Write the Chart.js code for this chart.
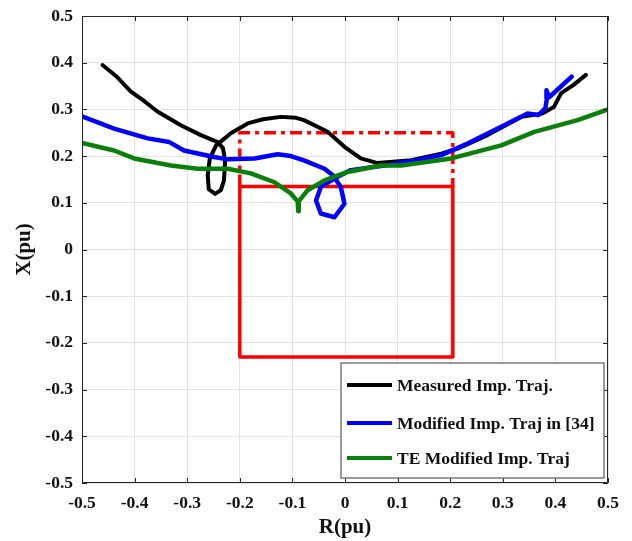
<!DOCTYPE html>
<html>
<head>
<meta charset="utf-8">
<script src="https://cdn.jsdelivr.net/npm/chart.js@4/dist/chart.umd.min.js"></script>
<style>
body{margin:0;background:#fff}
</style>
</head>
<body>
<canvas id="c" width="632" height="541"></canvas>
<script>

// axis ticks
let tickVals=[-0.5,-0.4,-0.3,-0.2,-0.1,0,0.1,0.2,0.3,0.4,0.5]

// measured impedance trajectory (R, X)
let measuredR=[-0.461,-0.435,-0.407,-0.382,-0.356,-0.312,-0.274,-0.242,-0.232,-0.228,-0.230,-0.236,-0.247,-0.259,-0.261,-0.257,-0.245,-0.217,-0.185,-0.156,-0.122,-0.093,-0.078,-0.033,-0.001,0.030,0.062,0.126,0.183,0.214,0.271,0.335,0.375,0.397,0.405,0.411,0.434,0.458]
let measuredX=[0.395,0.371,0.338,0.318,0.295,0.266,0.245,0.230,0.217,0.191,0.148,0.127,0.119,0.129,0.159,0.195,0.223,0.249,0.270,0.279,0.284,0.282,0.277,0.252,0.220,0.195,0.185,0.191,0.205,0.216,0.245,0.284,0.291,0.305,0.322,0.335,0.352,0.374]

// modified impedance trajectory in [34]
let modifiedR=[-0.5,-0.439,-0.375,-0.334,-0.306,-0.249,-0.223,-0.172,-0.128,-0.103,-0.078,-0.039,-0.023,-0.008,-0.001,-0.020,-0.046,-0.055,-0.046,-0.020,0.011,0.075,0.138,0.183,0.233,0.297,0.347,0.368,0.381,0.384,0.383,0.388,0.397,0.431]
let modifiedX=[0.285,0.259,0.238,0.230,0.212,0.198,0.193,0.195,0.204,0.200,0.191,0.173,0.159,0.134,0.098,0.069,0.077,0.105,0.134,0.152,0.170,0.180,0.191,0.202,0.227,0.263,0.291,0.288,0.303,0.324,0.341,0.326,0.335,0.370]

// TE modified impedance trajectory
let teR=[-0.5,-0.439,-0.401,-0.331,-0.280,-0.223,-0.179,-0.134,-0.103,-0.090,-0.089,-0.088,-0.071,-0.039,0.005,0.068,0.107,0.202,0.297,0.360,0.442,0.5]
let teX=[0.228,0.212,0.195,0.180,0.173,0.173,0.163,0.144,0.120,0.103,0.082,0.103,0.127,0.148,0.166,0.180,0.180,0.195,0.223,0.252,0.277,0.300]

// zone rectangles
let zoneR=[-0.2,-0.2,0.205,0.205,-0.2]
let zoneX=[0.135,-0.23,-0.23,0.135,0.135]
let zoneTopR=[-0.2,-0.2,0.205,0.205]
let zoneTopX=[0.135,0.25,0.25,0.135]

let legendNames=["Measured Imp. Traj.","Modified Imp. Traj in [34]","TE Modified Imp. Traj"]
let legendColors=["#000000","#0000ff","#0a800a"]

function pts(r,x){return r.map((v,i)=>({x:v,y:x[i]}))}

let font="'Liberation Serif','Times New Roman',serif"

function line(label,r,x,color,w,order,dash){
return {label:label,data:pts(r,x),borderColor:color,borderWidth:w,showLine:true,
pointRadius:0,tension:0,fill:false,order:order,borderDash:dash||[],
borderJoinStyle:"round",borderCapStyle:dash?"butt":"round"}
}

/* BOX, INNER TICKS, LEGEND */

let frame={
id:"frame",
afterDatasetsDraw(chart){
let ctx=chart.ctx,a=chart.chartArea,sx=chart.scales.x,sy=chart.scales.y
ctx.save()
ctx.strokeStyle="#262626"
ctx.lineWidth=1
ctx.beginPath()
ctx.rect(a.left+0.5,a.top+0.5,a.right-a.left-1,a.bottom-a.top-1)
tickVals.forEach(v=>{
let px=Math.round(sx.getPixelForValue(v))+0.5
ctx.moveTo(px,a.top);ctx.lineTo(px,a.top+5)
ctx.moveTo(px,a.bottom);ctx.lineTo(px,a.bottom-5)
let py=Math.round(sy.getPixelForValue(v))+0.5
ctx.moveTo(a.left,py);ctx.lineTo(a.left+5,py)
ctx.moveTo(a.right,py);ctx.lineTo(a.right-5,py)
})
ctx.stroke()

// legend
let lx=341,ly=363,lw=263,lh=115
ctx.fillStyle="#fff"
ctx.fillRect(lx,ly,lw,lh)
ctx.strokeStyle="#7a7a7a"
ctx.lineWidth=1.5
ctx.strokeRect(lx,ly,lw,lh)
ctx.font="bold 17.5px "+font
ctx.textBaseline="middle"
ctx.textAlign="left"
let rows=[385,423,458]
legendNames.forEach((n,i)=>{
ctx.strokeStyle=legendColors[i]
ctx.lineWidth=4
ctx.beginPath()
ctx.moveTo(347,rows[i]);ctx.lineTo(392,rows[i])
ctx.stroke()
ctx.fillStyle="#111"
ctx.fillText(n,397,rows[i]+1)
})
ctx.restore()
}
}

new Chart(document.getElementById("c"),{
type:"scatter",
data:{
datasets:[
line(legendNames[2],teR,teX,legendColors[2],4.5,1),
line(legendNames[1],modifiedR,modifiedX,legendColors[1],4.5,2),
line(legendNames[0],measuredR,measuredX,legendColors[0],4,3),
line("zone",zoneR,zoneX,"#ff0000",3.5,4),
line("zone top",zoneTopR,zoneTopX,"#ff0000",3.5,5,[12,5,4,5])
]
},
options:{
responsive:false,
animation:false,
layout:{padding:{top:16,right:24,left:0,bottom:0}},
plugins:{legend:{display:false},tooltip:{enabled:false}},
scales:{
x:{
type:"linear",min:-0.5,max:0.5,
afterBuildTicks:s=>{s.ticks=tickVals.map(v=>({value:v}))},
afterFit:s=>{s.height=58;s.paddingLeft=0;s.paddingRight=0},
grid:{color:"#e3e3e3",drawTicks:false},
border:{display:false},
ticks:{padding:10,color:"#111",font:{family:font,size:17.5,weight:"bold"},callback:v=>String(+v.toFixed(1))},
title:{display:true,text:"R(pu)",color:"#111",padding:{top:0,bottom:1},font:{family:font,size:21,weight:"bold",lineHeight:1.2}}
},
y:{
type:"linear",min:-0.5,max:0.5,
afterBuildTicks:s=>{s.ticks=tickVals.map(v=>({value:v}))},
afterFit:s=>{s.width=82;s.paddingTop=0;s.paddingBottom=0},
grid:{color:"#e3e3e3",drawTicks:false},
border:{display:false},
ticks:{padding:9,color:"#111",font:{family:font,size:17.5,weight:"bold"},callback:v=>String(+v.toFixed(1))},
title:{display:true,text:"X(pu)",color:"#111",padding:{top:12,bottom:0},font:{family:font,size:21,weight:"bold",lineHeight:1.2}}
}
}
},
plugins:[frame]
})

</script>
</body>
</html>
